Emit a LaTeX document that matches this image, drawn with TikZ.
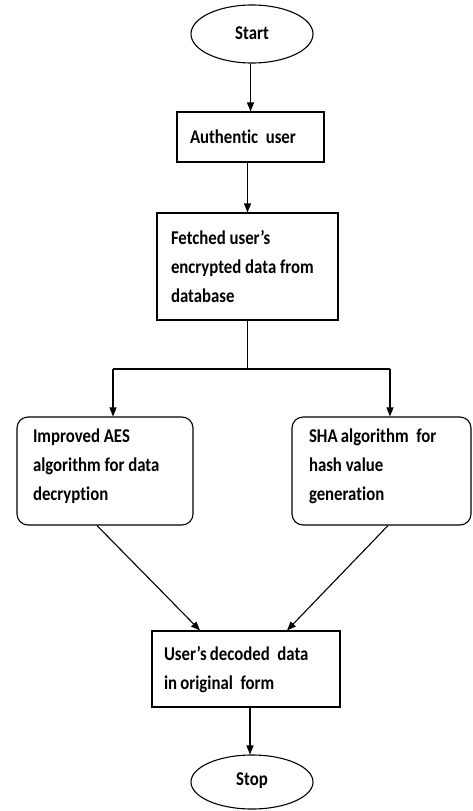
\documentclass[tikz,border=0pt]{standalone}
\usepackage{fontspec}
\setmainfont{Carlito}[Ligatures=NoCommon,FakeStretch=0.86]
\usetikzlibrary{arrows.meta,shapes.geometric}
\begin{document}
\begin{tikzpicture}[x=1pt,y=-1pt,
  line width=1.1pt,
  arr/.style={-{Triangle[length=9pt,width=7pt]}},
  term/.style={draw,ellipse,minimum width=122pt,inner sep=0pt},
  sqbox/.style={draw,rectangle,inner sep=0pt},
  rbox/.style={draw,rectangle,rounded corners=11pt,inner sep=0pt},
  txt/.style={inner sep=0pt,align=left,font=\fontsize{19.5}{29}\selectfont\bfseries},
]
\useasboundingbox (0,0) rectangle (472,811);
% terminals
\node[term,minimum height=58pt] (S) at (252,34) {};
\node[txt] (St) at ([yshift=1pt]S.center) {Start};
\node[term,minimum height=54pt] (E) at (252,782) {};
\node[txt] (Et) at ([yshift=1pt]E.center) {Stop};
% boxes
\node[sqbox,minimum width=147pt,minimum height=50pt] (A) at (250.5,137) {};
\node[txt,anchor=west] (At) at ([xshift=13pt,yshift=0pt]A.west) {Authentic\ \ user};
\node[sqbox,minimum width=181pt,minimum height=107pt] (F) at (247.5,266.5) {};
\node[txt,anchor=west] (Ft) at ([xshift=14pt,yshift=0pt]F.west) {Fetched user's\\encrypted data from\\database};
\node[rbox,minimum width=176pt,minimum height=108pt] (L) at (105,471) {};
\node[txt,anchor=west] (Lt) at ([xshift=16pt,yshift=5pt]L.west) {Improved AES\\algorithm for data\\decryption};
\node[rbox,minimum width=179pt,minimum height=108pt] (R) at (381.5,471) {};
\node[txt,anchor=west] (Rt) at ([xshift=17pt,yshift=5pt]R.west) {SHA\,algorithm\ \ for\\hash value\\generation};
\node[sqbox,minimum width=188pt,minimum height=76pt] (B) at (246,669) {};
\node[txt,anchor=west] (Bt) at ([xshift=12pt,yshift=-1pt]B.west) {User's\,decoded\ \ data\\in\,original\ \ form};
% connectors
\coordinate (jl) at (113,369);
\coordinate (jr) at (390,369);
\draw[arr] (S.south -| A.north) -- (A.north);
\draw[arr] (A.south -| F.north) -- (F.north);
\draw (F.south) -- (F.south |- jl);
\draw (jl) -- (jr);
\draw[arr] (jl) -- (jl |- L.north);
\draw[arr] (jr) -- (jr |- R.north);
\draw[arr] ([xshift=-8pt]L.south) -- ([xshift=-46pt]B.north);
\draw[arr] ([xshift=6.5pt]R.south) -- ([xshift=41pt]B.north);
\draw[arr] ([xshift=4pt]B.south) -- ([xshift=4pt]B.south |- E.north);
\end{tikzpicture}
\end{document}
